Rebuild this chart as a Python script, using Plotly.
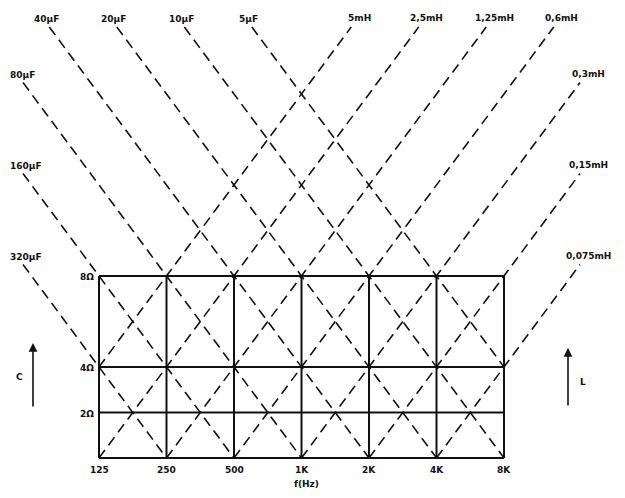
import math
import plotly.graph_objects as go

# ---- data ----
freq_hz = [125, 250, 500, 1000, 2000, 4000, 8000]
freq_labels = ["125", "250", "500", "1K", "2K", "4K", "8K"]
ohm_levels = [0, 2, 4, 8]
ohm_labels = ["", "2Ω", "4Ω", "8Ω"]

cap_labels = ["320µF", "160µF", "80µF", "40µF", "20µF", "10µF", "5µF"]
cap_f_at_8ohm = [62.5, 125, 250, 500, 1000, 2000, 4000]

ind_labels = ["5mH", "2,5mH", "1,25mH", "0,6mH", "0,3mH", "0,15mH", "0,075mH"]
ind_f_at_8ohm = [250, 500, 1000, 2000, 4000, 8000, 16000]

# ---- layout geometry (screen pixels; page body adds an 8px margin) ----
OFF = 8
W, H = 625 - OFF, 498 - OFF
X0_PX, OCT_PX = 99.0 - OFF, 67.5      # 125 Hz position, px per octave
Y0_PX, OHM_PX = 458.0 - OFF, 22.75    # 0 ohm position, px per ohm
L2 = math.log10(2)
F0 = freq_hz[0]

def oct_of(f):
    return math.log2(f / F0)

def f_of(o):
    return F0 * 2 ** o

x_range = [math.log10(F0) - X0_PX / OCT_PX * L2, math.log10(F0) + (W - X0_PX) / OCT_PX * L2]
y_range = [-(H - Y0_PX) / OHM_PX, Y0_PX / OHM_PX]

y_top = (Y0_PX - (27 - OFF)) / OHM_PX          # top end of dashed lines
x_left = ((23 - OFF) - X0_PX) / OCT_PX         # left end of capacitor lines
x_right = ((580 - OFF) - X0_PX) / OCT_PX       # right end of inductor lines
o_max = oct_of(freq_hz[-1])
SLOPE = 4.0                            # ohm per octave as drawn
REF = 8.0

fig = go.Figure()
black = "#111111"
dash_style = "10px,6px"

# grid
for f in freq_hz:
    fig.add_trace(go.Scatter(x=[f, f], y=[0, ohm_levels[-1]], mode="lines",
                             line=dict(color=black, width=2), hoverinfo="skip", showlegend=False))
for y in ohm_levels:
    fig.add_trace(go.Scatter(x=[freq_hz[0], freq_hz[-1]], y=[y, y], mode="lines",
                             line=dict(color=black, width=2), hoverinfo="skip", showlegend=False))

annotations = []
font = dict(family="DejaVu Sans, sans-serif", size=9, color=black)

# capacitor lines (falling)
for lab, f8 in zip(cap_labels, cap_f_at_8ohm):
    o8 = oct_of(f8)
    o_top = o8 - (y_top - REF) / SLOPE
    o_start = max(x_left, o_top)
    o_end = min(o_max, o8 + REF / SLOPE)
    ys = REF - SLOPE * (o_start - o8)
    ye = REF - SLOPE * (o_end - o8)
    fig.add_trace(go.Scatter(x=[f_of(o_start), f_of(o_end)], y=[ys, ye], mode="lines",
                             line=dict(color=black, width=1.6, dash=dash_style),
                             hoverinfo="skip", showlegend=False))
    if o_top < x_left:   # line starts on the left edge: left-align its label
        annotations.append(dict(x=math.log10(f_of(o_start)), y=ys, text="<b>" + lab + "</b>",
                                showarrow=False, xshift=-15, yshift=8, font=font,
                                xanchor="left", yanchor="middle"))
    else:
        annotations.append(dict(x=math.log10(f_of(o_start)), y=ys, text="<b>" + lab + "</b>",
                                showarrow=False, xshift=-3, yshift=8, font=font,
                                xanchor="center", yanchor="middle"))

# inductor lines (rising)
for lab, f8 in zip(ind_labels, ind_f_at_8ohm):
    o8 = oct_of(f8)
    o_start = max(0.0, o8 - REF / SLOPE)
    o_end = min(x_right, o8 + (y_top - REF) / SLOPE)
    ys = REF + SLOPE * (o_start - o8)
    ye = REF + SLOPE * (o_end - o8)
    fig.add_trace(go.Scatter(x=[f_of(o_start), f_of(o_end)], y=[ys, ye], mode="lines",
                             line=dict(color=black, width=1.6, dash=dash_style),
                             hoverinfo="skip", showlegend=False))
    annotations.append(dict(x=math.log10(f_of(o_end)), y=ye, text="<b>" + lab + "</b>",
                            showarrow=False, xshift=8, yshift=9, font=font,
                            xanchor="center", yanchor="middle"))

# frequency tick labels
for f, lab in zip(freq_hz, freq_labels):
    annotations.append(dict(x=math.log10(f), y=0, text="<b>" + lab + "</b>", showarrow=False,
                            yshift=-12, font=font, xanchor="center", yanchor="middle"))
annotations.append(dict(x=math.log10(1000), y=0, text="<b>f(Hz)</b>", showarrow=False,
                        xshift=5, yshift=-26, font=font, xanchor="center", yanchor="middle"))

# ohm labels
for y, lab in zip(ohm_levels, ohm_labels):
    if lab:
        annotations.append(dict(x=math.log10(freq_hz[0]), y=y, text="<b>" + lab + "</b>",
                                showarrow=False, xshift=-3, yshift=-1, font=font,
                                xanchor="right", yanchor="middle"))

# arrows C and L (screen pixel positions)
def px(xp, yp):
    return (xp - OFF) / W, 1 - (yp - OFF) / H

for xp, ytail, yhead, lab, lx, ly in [(33, 408, 343, "C", 19, 377), (568, 407, 348, "L", 583, 382)]:
    hx, hy = px(xp, yhead)
    annotations.append(dict(x=hx, y=hy, xref="paper", yref="paper", ax=0, ay=ytail - yhead,
                            text="", showarrow=True, arrowhead=2, arrowsize=1.1, arrowwidth=1.6,
                            arrowcolor=black))
    tx, ty = px(lx, ly)
    annotations.append(dict(x=tx, y=ty, xref="paper", yref="paper", text="<b>" + lab + "</b>",
                            showarrow=False, font=font, xanchor="center", yanchor="middle"))

fig.update_layout(
    width=W, height=H,
    margin=dict(l=0, r=0, t=0, b=0),
    paper_bgcolor="white", plot_bgcolor="white",
    xaxis=dict(type="log", range=x_range, visible=False, fixedrange=True),
    yaxis=dict(range=y_range, visible=False, fixedrange=True),
    annotations=annotations,
    showlegend=False,
)

fig.write_html("out.html")
